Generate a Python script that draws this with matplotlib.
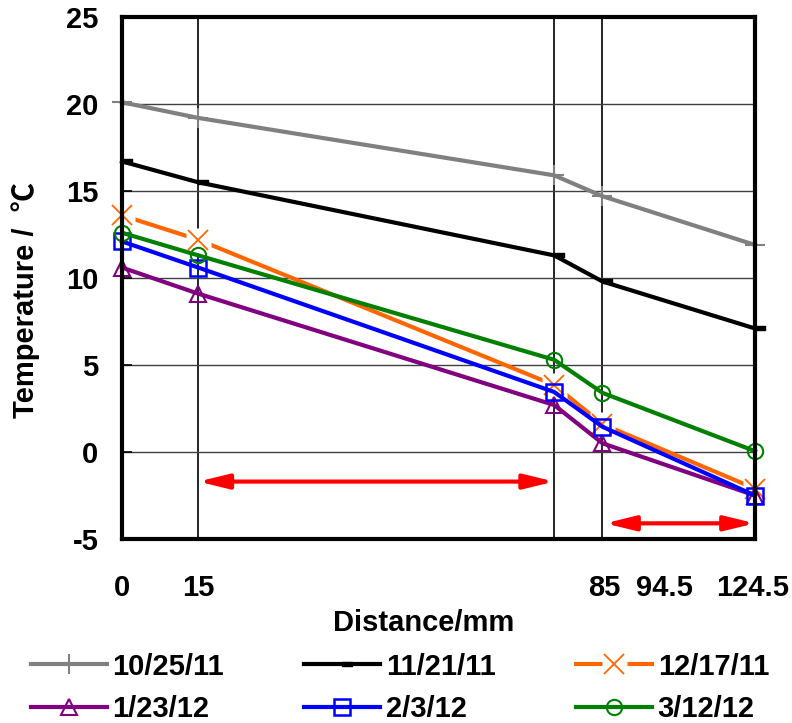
import numpy as np
import matplotlib
matplotlib.use('Agg')
import matplotlib.pyplot as plt
from matplotlib.path import Path
from matplotlib.legend_handler import HandlerTuple

plt.rcParams['font.family'] = ['Liberation Sans', 'Noto Sans CJK JP', 'DejaVu Sans']
plt.rcParams['font.weight'] = 'bold'
plt.rcParams['axes.unicode_minus'] = False

# distance along the sample (mm)
distance = [0, 15, 85, 94.5, 124.5]
tick_text = ['0', '15', '85', '94.5', '124.5']
# where the original chart puts the tick texts (they are shifted in the source)
tick_text_pos = [0, 15.1, 94.8, 106.6, 124.1]

dates = ['10/25/11', '11/21/11', '12/17/11', '1/23/12', '2/3/12', '3/12/12']
t_1025 = [20.1, 19.2, 15.9, 14.7, 11.9]
t_1121 = [16.7, 15.5, 11.3, 9.8, 7.1]
t_1217 = [13.6, 12.2, 3.85, 1.6, -2.1]
t_0123 = [10.6, 9.1, 2.7, 0.5, -2.5]
t_0203 = [12.1, 10.6, 3.45, 1.45, -2.5]
t_0312 = [12.6, 11.3, 5.3, 3.4, 0.05]

# red double arrows: (x_start, x_end, y)
arrow_1 = (15, 85, -1.7)
arrow_2 = (95, 124.5, -4.1)

# little bar marker sticking out to the right (Excel "dash")
dash = Path([(0, -0.22), (1, -0.22), (1, 0.22), (0, 0.22), (0, -0.22)],
            [Path.MOVETO, Path.LINETO, Path.LINETO, Path.LINETO, Path.CLOSEPOLY])

fig = plt.figure(figsize=(7.92, 7.23), dpi=100)
ax = fig.add_axes([122 / 792, 1 - 539 / 723, 633 / 792, 522 / 723])

lw = 3
handles = []
h, = ax.plot(distance, t_1025, color='#808080', lw=lw, marker='+', ms=14, mew=1.5,
             zorder=3, clip_on=False)
handles.append(h)
h, = ax.plot(distance, t_1121, color='black', lw=lw, marker=dash, ms=14,
             zorder=3.1, clip_on=False)
handles.append(h)

l1, = ax.plot(distance, t_1217, color='#FF6600', lw=lw, zorder=3.2, clip_on=False)
l2, = ax.plot(distance, t_1217, ls='none', marker='s', ms=18, mfc='white', mec='none',
              zorder=3.21, clip_on=False)
l3, = ax.plot(distance, t_1217, ls='none', marker='x', ms=15, mew=1.3, color='#FF6600',
              zorder=3.22, clip_on=False)
handles.append((l1, l2, l3))

h, = ax.plot(distance, t_0123, color='#800080', lw=lw, marker='^', ms=11, mew=1.5,
             mfc='none', zorder=3.3, clip_on=False)
handles.append(h)
h, = ax.plot(distance, t_0203, color='#0000FF', lw=lw, marker='s', ms=12, mew=1.8,
             mfc='none', zorder=3.4, clip_on=False)
handles.append(h)
h, = ax.plot(distance, t_0312, color='#008000', lw=lw, marker='o', ms=11, mew=1.5,
             mfc='none', zorder=3.5, clip_on=False)
handles.append(h)

for x0, x1, y in [arrow_1, arrow_2]:
    ax.annotate('', xy=(x1, y), xytext=(x0, y),
                arrowprops=dict(arrowstyle='<|-|>,head_length=0.9,head_width=0.22',
                                color='#FF0000', lw=3, shrinkA=0, shrinkB=0,
                                mutation_scale=20), zorder=4)

ax.set_xlim(0, 124.5)
ax.set_ylim(-5, 25)

# vertical lines at the measurement points
ax.xaxis.remove_overlapping_locs = False
ax.set_xticks(distance)
ax.set_xticklabels([])
ax.tick_params(axis='x', which='major', length=0)
ax.grid(axis='x', which='major', color='black', lw=1.2)
ax.set_xticks(tick_text_pos, tick_text, minor=True)
ax.tick_params(axis='x', which='minor', length=0, pad=25, labelsize=21)

ax.set_yticks(np.arange(-5, 26, 5))
ax.tick_params(axis='y', direction='in', length=7, width=1.2, pad=17, labelsize=21)
ax.grid(axis='y', color='#404040', lw=1)
ax.set_axisbelow(True)

for s in ax.spines.values():
    s.set_linewidth(3)
    s.set_zorder(5)

ax.set_xlabel('Distance/mm', fontsize=21, fontweight='bold')
ax.xaxis.set_label_coords(0.477, -0.135)
ax.set_ylabel('Temperature /  ℃', fontsize=21, fontweight='bold')
ax.yaxis.set_label_coords(-0.13, 0.458)

# legend fills column by column, reorder so rows read like the original
order = [0, 3, 1, 4, 2, 5]
fig.legend([handles[i] for i in order], [dates[i] for i in order], ncol=3, loc='center',
           bbox_to_anchor=(400 / 792, 1 - 688 / 723), frameon=False,
           fontsize=21, numpoints=1, handlelength=2.6, handletextpad=0.2,
           columnspacing=2.75, labelspacing=0.5, borderpad=0,
           handler_map={tuple: HandlerTuple(ndivide=1)})

fig.savefig('out.png', dpi=100)
